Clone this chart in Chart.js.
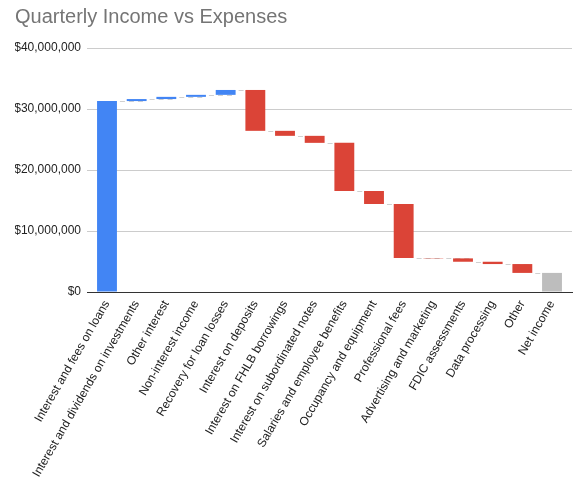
<!DOCTYPE html>
<html>
<head>
<meta charset="utf-8">
<script src="https://cdn.jsdelivr.net/npm/chart.js@4/dist/chart.umd.min.js"></script>
<style>
  html, body { margin: 0; padding: 0; background: #fff; }
  #wrap { width: 588px; height: 486px; }
</style>
</head>
<body>
<div id="wrap"><canvas id="chart-waterfall"></canvas></div>
<script>
const categories = [
    "Interest and fees on loans",
    "Interest and dividends on investments",
    "Other interest",
    "Non-interest income",
    "Recovery for loan losses",
    "Interest on deposits",
    "Interest on FHLB borrowings",
    "Interest on subordinated notes",
    "Salaries and employee benefits",
    "Occupancy and equipment",
    "Professional fees",
    "Advertising and marketing",
    "FDIC assessments",
    "Data processing",
    "Other",
    "Net income",
];

// change per line item (the last category is the running total)
const amounts = [
    31300000, 330000, 360000, 330000, 800000,
    -6700000, -820000, -1150000, -7890000, -2130000,
    -8870000, -50000, -550000, -380000, -1450000,
];

const yTicks = [0, 10000000, 20000000, 30000000, 40000000];

const colors = { up: "#4285f4", down: "#db4437", total: "#bdbdbd" };
const font = "Arial, 'Liberation Sans', sans-serif";

// build floating bars [start, end]
let running = 0;
const bars = [];
const ends = [];
amounts.forEach((a, i) => {
    bars.push({ x: i, y: [running, running + a] });
    running += a;
    ends.push(running);
});
bars.push({ x: amounts.length, y: [0, running] });

const barColors = amounts.map(a => a >= 0 ? colors.up : colors.down).concat([colors.total]);

const connectors = {
    id: 'connectors',
    beforeDatasetsDraw(chart) {
        const meta = chart.getDatasetMeta(0);
        const y = chart.scales.y;
        const ctx = chart.ctx;
        ctx.save();
        ctx.strokeStyle = '#d0d0d0';
        ctx.lineWidth = 1;
        ctx.setLineDash([5, 4]);
        for (let i = 0; i < ends.length; i++) {
            const a = meta.data[i], b = meta.data[i + 1];
            const py = Math.round(y.getPixelForValue(ends[i])) + 0.5;
            ctx.beginPath();
            ctx.moveTo(a.x + a.width / 2 + 3, py);
            ctx.lineTo(b.x + b.width / 2, py);
            ctx.stroke();
        }
        ctx.restore();
    }
};

function money(v) {
    return '$' + Number(v).toLocaleString('en-US');
}

const chart = new Chart('chart-waterfall', {
    type: 'bar',
    data: {
        datasets: [{
            data: bars,
            backgroundColor: barColors,
            borderWidth: 0,
            categoryPercentage: 1,
            barPercentage: 0.67,
        }]
    },
    options: {
        responsive: true,
        maintainAspectRatio: false,
        animation: false,
        layout: { padding: { left: 15, right: 16, top: 0, bottom: 0 } },
        plugins: {
            legend: { display: false },
            tooltip: { enabled: false },
            title: {
                display: true,
                text: 'Quarterly Income vs Expenses',
                align: 'start',
                color: '#757575',
                font: { family: font, size: 20, weight: 'normal' },
                padding: { top: 5, bottom: 19 },
            },
        },
        scales: {
            x: {
                type: 'linear',
                offset: false,
                min: -0.674,
                max: categories.length - 1 + 0.674,
                grid: { display: false, drawTicks: false },
                border: { display: true, color: '#333', width: 1 },
                afterBuildTicks: axis => {
                    axis.ticks = categories.map((c, i) => ({ value: i }));
                },
                afterFit: axis => { axis.height = 194; },
                ticks: {
                    autoSkip: false,
                    minRotation: 60,
                    maxRotation: 60,
                    padding: 6,
                    color: '#222',
                    font: { family: font, size: 12 },
                    callback: v => categories[v],
                },
            },
            y: {
                min: 0,
                max: 40000000,
                afterBuildTicks: axis => {
                    axis.ticks = yTicks.map(v => ({ value: v }));
                },
                afterFit: axis => { axis.width = 72; },
                border: { display: false },
                grid: {
                    drawTicks: false,
                    color: ctx => ctx.tick && ctx.tick.value === 0 ? '#333' : '#cccccc',
                },
                ticks: {
                    padding: 6,
                    color: '#222',
                    font: { family: font, size: 12 },
                    callback: v => money(v),
                },
            },
        },
    },
    plugins: [connectors],
});
</script>
</body>
</html>
